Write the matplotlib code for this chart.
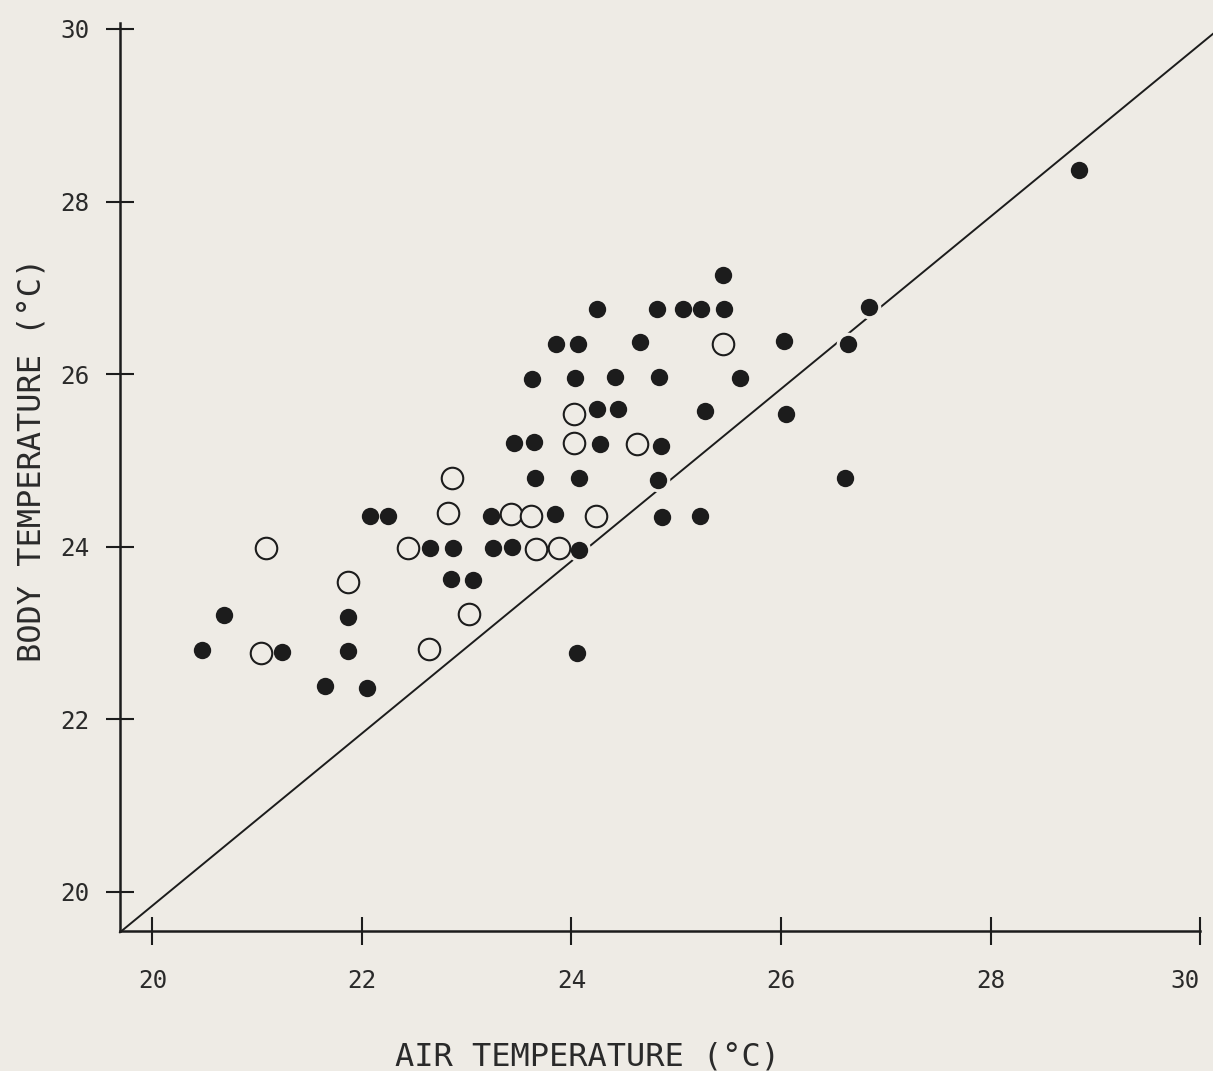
import matplotlib

matplotlib.use("Agg")
import matplotlib.pyplot as plt

# Body vs air temperature.
# filled dots
filled_air = [
    28.84, 25.45, 24.24, 24.82, 25.06, 25.24, 25.46, 26.84, 23.85, 24.06,
    24.65, 26.03, 26.64, 24.03, 24.42, 24.84, 23.62, 25.61, 24.24, 24.44,
    25.27, 26.05, 23.45, 23.64, 24.27, 24.85, 23.65, 24.07, 24.83, 26.61,
    23.23, 23.84, 24.86, 25.23, 22.08, 22.25, 22.65, 22.87, 23.25, 23.43,
    24.07, 22.85, 23.06, 21.87, 20.68, 20.47, 21.24, 21.87, 24.05, 21.65,
    22.05,
]
filled_body = [
    28.37, 27.15, 26.76, 26.76, 26.76, 26.76, 26.76, 26.78, 26.35, 26.35,
    26.37, 26.38, 26.35, 25.96, 25.97, 25.97, 25.94, 25.95, 25.59, 25.59,
    25.57, 25.54, 25.20, 25.21, 25.19, 25.17, 24.79, 24.80, 24.77, 24.80,
    24.35, 24.38, 24.34, 24.35, 24.36, 24.36, 23.99, 23.99, 23.98, 24.00,
    23.96, 23.62, 23.61, 23.19, 23.21, 22.80, 22.78, 22.79, 22.77, 22.38,
    22.36,
]
# open circles
open_air = [
    25.45, 24.02, 24.02, 24.63, 22.86, 22.82, 23.42, 23.61, 24.23, 21.08,
    22.44, 23.66, 23.88, 21.87, 23.02, 21.04, 22.64,
]
open_body = [
    26.35, 25.54, 25.20, 25.19, 24.80, 24.39, 24.38, 24.36, 24.35, 23.99,
    23.98, 23.97, 23.98, 23.59, 23.22, 22.77, 22.81,
]
# diagonal reference line (body = air), as drawn
diag_air = [19.69, 30.13]
diag_body = [19.53, 29.95]

ticks = [20, 22, 24, 26, 28, 30]

BG = "#eeebe5"
INK = "#1c1c1c"
TXT = "#2a2a2a"

plt.rcParams["font.family"] = ["DejaVu Sans Mono", "DejaVu Sans"]

fig = plt.figure(figsize=(12.13, 10.71), dpi=100, facecolor=BG)
ax = fig.add_axes([0.0989, 0.1303, 0.8904, 0.8483], facecolor=BG)

ax.plot(diag_air, diag_body, color=INK, linewidth=1.4, clip_on=False, zorder=1)
# the line was drawn by hand with small breaks around dots that sit on it
ax.plot(filled_air, filled_body, linestyle="none", marker="o", ms=17,
        mfc=BG, mec=BG, mew=0, zorder=1.5)
ax.plot(open_air, open_body, linestyle="none", marker="o", ms=15.5,
        mfc=BG, mec=INK, mew=1.5, zorder=2)
ax.plot(filled_air, filled_body, linestyle="none", marker="o", ms=12.5,
        mfc=INK, mec=INK, mew=0, zorder=3)

ax.set_xlim(19.69, 30.0)
ax.set_ylim(19.54, 30.07)
ax.set_xticks(ticks)
ax.set_yticks(ticks)

for side in ("top", "right"):
    ax.spines[side].set_visible(False)
for side in ("left", "bottom"):
    ax.spines[side].set_linewidth(1.8)
    ax.spines[side].set_color(INK)

ax.tick_params(axis="both", direction="inout", length=20, width=1.5,
               color=INK, labelcolor=TXT, labelsize=17.5)
ax.tick_params(axis="x", pad=17)
ax.tick_params(axis="y", pad=12)
# last x label sits just left of its tick at the edge of the page
ax.get_xticklabels()[-1].set_horizontalalignment("right")

fig.text(0.484, 0.0131, "AIR TEMPERATURE (°C)", fontsize=23, color=TXT,
         ha="center", va="center")
fig.text(0.0264, 0.571, "BODY TEMPERATURE (°C)", fontsize=23, color=TXT,
         ha="center", va="center", rotation=90)

fig.savefig("out.png", dpi=100, facecolor=BG)
